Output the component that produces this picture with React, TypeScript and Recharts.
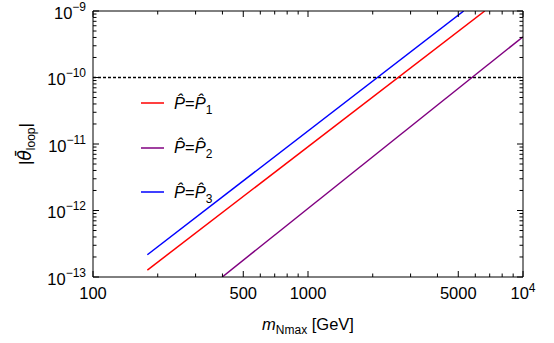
import { LineChart, Line, XAxis, YAxis, ReferenceLine, Legend } from "recharts";

// line end points (m in GeV, |theta| dimensionless)
const redM = [179, 6640];
const redTheta = [1.27e-13, 1e-9];
const purpleM = [399, 10000];
const purpleTheta = [1e-13, 4.1e-10];
const blueM = [179, 5300];
const blueTheta = [2.16e-13, 1e-9];

const seriesSubs = ["1", "2", "3"];
const seriesColors = ["#ff0000", "#800080", "#0000ff"];
const thetaLimit = 1e-10;

const xTicks = [
  100, 200, 300, 400, 500, 600, 700, 800, 900,
  1000, 2000, 3000, 4000, 5000, 6000, 7000, 8000, 9000, 10000,
];
const xLabels = [100, 500, 1000, 5000, 10000];
const yDecades = [-13, -12, -11, -10, -9];
const yMinor = [2, 3, 4, 5, 6, 7, 8, 9];

const yTicks: number[] = [];
yDecades.forEach((e) => {
  yTicks.push(Math.pow(10, e));
  if (e < -9) yMinor.forEach((k) => yTicks.push(k * Math.pow(10, e)));
});

const toPoints = (ms: number[], ts: number[]) =>
  ms.map((m, i) => ({ m, theta: ts[i] }));

const seriesData = [
  toPoints(redM, redTheta),
  toPoints(purpleM, purpleTheta),
  toPoints(blueM, blueTheta),
];

const FONT = "'Liberation Sans', Arial, sans-serif";

const isDecade = (v: number) =>
  Math.abs(Math.log10(v) - Math.round(Math.log10(v))) < 1e-6;

const tickPath = (d: string) => <path d={d} stroke="#000" strokeWidth={1} fill="none" />;

const BottomTick = (props: any) => {
  const { x, y, payload } = props;
  const v = payload.value;
  const labeled = xLabels.includes(v);
  const px = Number(x);
  const py = Number(y);
  return (
    <g>
      {tickPath(`M${px},${py}V${py - (labeled ? 6 : 3.5)}`)}
      {labeled && (
        <text x={px} y={py + 22} textAnchor="middle" fontSize={16.5} fontFamily={FONT} fill="#000">
          {v === 10000 ? (
            <>
              10<tspan fontSize={12} dy={-7}>4</tspan>
            </>
          ) : (
            v
          )}
        </text>
      )}
    </g>
  );
};

const TopTick = (props: any) => {
  const { x, y, payload } = props;
  const labeled = xLabels.includes(payload.value);
  const px = Number(x);
  const py = Number(y);
  return <g>{tickPath(`M${px},${py}V${py + (labeled ? 6 : 3.5)}`)}</g>;
};

const LeftTick = (props: any) => {
  const { x, y, payload } = props;
  const v = payload.value;
  const major = isDecade(v);
  const px = Number(x);
  const py = Number(y);
  return (
    <g>
      {tickPath(`M${px},${py}H${px + (major ? 6 : 3.5)}`)}
      {major && (
        <text x={px - 7} y={py + 7.5} textAnchor="end" fontSize={16.5} fontFamily={FONT} fill="#000">
          10<tspan fontSize={12} dy={-8}>{"\u2212" + Math.abs(Math.round(Math.log10(v)))}</tspan>
        </text>
      )}
    </g>
  );
};

const RightTick = (props: any) => {
  const { x, y, payload } = props;
  const major = isDecade(payload.value);
  const px = Number(x);
  const py = Number(y);
  return <g>{tickPath(`M${px},${py}H${px - (major ? 6 : 3.5)}`)}</g>;
};

const LegendBox = (props: any) => {
  const { payload } = props;
  return (
    <div style={{ fontFamily: FONT }}>
      {(payload || []).map((p: any, i: number) => (
        <div key={i} style={{ display: "flex", alignItems: "center", height: 44.5 }}>
          <svg width={23} height={4} style={{ display: "block" }}>
            <line x1={0} x2={23} y1={2} y2={2} stroke={p.color} strokeWidth={1.5} />
          </svg>
          <span style={{ marginLeft: 10, fontSize: 16.5, color: "#000", whiteSpace: "nowrap" }}>
            <i>P{"\u0302"}</i>=<i>P{"\u0302"}</i>
            <span style={{ fontSize: 12, position: "relative", top: 5 }}>{p.value}</span>
          </span>
        </div>
      ))}
    </div>
  );
};

const XTitle = (props: any) => {
  const { viewBox } = props;
  const cx = viewBox.x + viewBox.width / 2;
  return (
    <text x={cx} y={viewBox.y + 53} textAnchor="middle" fontSize={16.5} fontFamily={FONT} fill="#000">
      <tspan fontStyle="italic">m</tspan>
      <tspan fontSize={12} dy={4}>Nmax</tspan>
      <tspan dy={-4}> [GeV]</tspan>
    </text>
  );
};

const YTitle = (props: any) => {
  const { viewBox } = props;
  const cy = viewBox.y + viewBox.height / 2;
  return (
    <text
      transform={`translate(31,${cy}) rotate(-90)`}
      textAnchor="middle"
      fontSize={17}
      fontFamily={FONT}
      fill="#000"
    >
      |<tspan fontStyle="italic" fontFamily="'DejaVu Sans', sans-serif">{"\u03B8\u0304"}</tspan>
      <tspan fontSize={12} dy={4}>loop</tspan>
      <tspan dy={-4}>|</tspan>
    </text>
  );
};

export default function App() {
  return (
    <div style={{ position: "absolute", left: 0, top: 0, background: "#fff" }}>
      <LineChart width={554} height={343} margin={{ top: 10, right: 30, bottom: 26, left: 0 }}>
        <XAxis
          xAxisId="b"
          dataKey="m"
          type="number"
          scale="log"
          domain={[100, 10000]}
          allowDataOverflow
          ticks={xTicks}
          interval={0}
          tickSize={0}
          tickMargin={0}
          tickLine={false}
          tick={BottomTick}
          axisLine={{ stroke: "#000" }}
          height={40}
          label={{ content: <XTitle /> }}
        />
        <XAxis
          xAxisId="t"
          orientation="top"
          dataKey="m"
          type="number"
          scale="log"
          domain={[100, 10000]}
          allowDataOverflow
          ticks={xTicks}
          interval={0}
          tickSize={0}
          tickMargin={0}
          tickLine={false}
          tick={TopTick}
          axisLine={{ stroke: "#000" }}
          height={1}
        />
        <YAxis
          yAxisId="l"
          type="number"
          scale="log"
          domain={[1e-13, 1e-9]}
          allowDataOverflow
          ticks={yTicks}
          interval={0}
          tickSize={0}
          tickMargin={0}
          tickLine={false}
          tick={LeftTick}
          axisLine={{ stroke: "#000" }}
          width={93}
          label={{ content: <YTitle /> }}
        />
        <YAxis
          yAxisId="r"
          orientation="right"
          type="number"
          scale="log"
          domain={[1e-13, 1e-9]}
          allowDataOverflow
          ticks={yTicks}
          interval={0}
          tickSize={0}
          tickMargin={0}
          tickLine={false}
          tick={RightTick}
          axisLine={{ stroke: "#000" }}
          width={1}
        />
        <ReferenceLine
          xAxisId="b"
          yAxisId="l"
          y={thetaLimit}
          stroke="#000"
          strokeWidth={1.3}
          strokeDasharray="3 2"
        />
        {seriesData.map((d, i) => (
          <Line
            key={i}
            xAxisId="b"
            yAxisId="l"
            data={d}
            dataKey="theta"
            name={seriesSubs[i]}
            type="linear"
            stroke={seriesColors[i]}
            strokeWidth={1.5}
            dot={false}
            activeDot={false}
            isAnimationActive={false}
          />
        ))}
        <Legend
          layout="vertical"
          align="center"
          verticalAlign="middle"
          content={<LegendBox />}
          wrapperStyle={{ left: 141, top: 81, width: 130, height: 134 }}
        />
      </LineChart>
    </div>
  );
}
